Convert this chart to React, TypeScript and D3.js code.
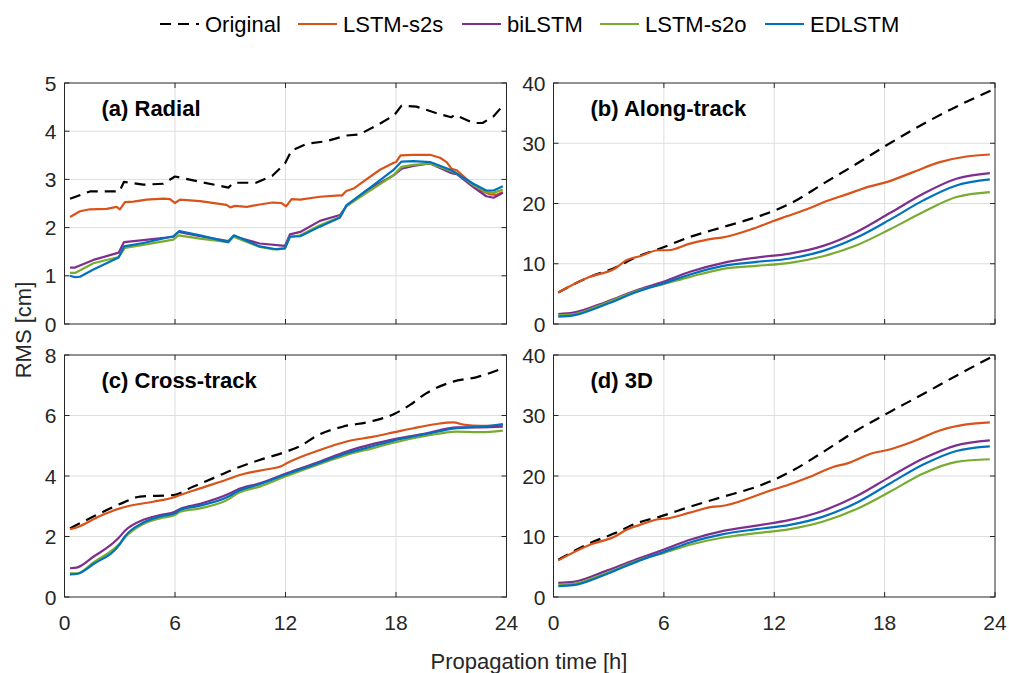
import * as d3 from "d3";

type Pt = [number, number];

// legend / series names
const seriesNames = ["Original", "LSTM-s2s", "biLSTM", "LSTM-s2o", "EDLSTM"];
const seriesColors = ["#000000", "#D95319", "#7E2F8E", "#77AC30", "#0072BD"];

const xTicks = [0, 6, 12, 18, 24];

// (a) Radial
const radialOriginal: Pt[] = [
  [0.3, 2.6], [1.38, 2.75], [2.98, 2.75], [3.23, 2.95], [4.28, 2.89], [5.37, 2.91],
  [6.0, 3.06], [7.36, 2.95], [8.9, 2.83], [9.17, 2.93], [10.4, 2.93], [11.3, 3.08],
  [11.97, 3.33], [12.33, 3.6], [13.15, 3.74], [14.2, 3.79], [15.3, 3.91], [16.0, 3.93],
  [17.1, 4.15], [17.9, 4.33], [18.3, 4.53], [19.1, 4.51], [20.4, 4.35], [21.0, 4.29],
  [21.2, 4.34], [22.2, 4.17], [22.7, 4.17], [23.3, 4.31], [23.8, 4.53],
];
const radialS2s: Pt[] = [
  [0.3, 2.22], [0.84, 2.34], [1.38, 2.38], [2.29, 2.39], [2.83, 2.43], [3.01, 2.38],
  [3.28, 2.53], [3.74, 2.54], [4.46, 2.58], [5.37, 2.6], [5.73, 2.59], [6.0, 2.51],
  [6.27, 2.58], [7.36, 2.55], [8.8, 2.47], [9.0, 2.42], [9.26, 2.45], [9.9, 2.43],
  [10.6, 2.48], [11.3, 2.52], [11.79, 2.51], [12.03, 2.44], [12.33, 2.59], [12.8, 2.58],
  [13.87, 2.64], [14.96, 2.67], [15.05, 2.66], [15.3, 2.76], [15.7, 2.81], [16.2, 2.95],
  [17.13, 3.2], [17.85, 3.34], [18.0, 3.36], [18.25, 3.5], [18.94, 3.51], [19.85, 3.51],
  [20.39, 3.45], [20.75, 3.36], [21.02, 3.22], [21.3, 3.19], [22.0, 2.95], [22.6, 2.77],
  [23.1, 2.69], [23.47, 2.68], [23.8, 2.74],
];
const radialBi: Pt[] = [
  [0.3, 1.17], [0.57, 1.17], [1.57, 1.33], [2.94, 1.48], [3.23, 1.7], [4.28, 1.74],
  [5.91, 1.81], [6.18, 1.91], [7.36, 1.82], [8.9, 1.72], [9.17, 1.82], [10.6, 1.67],
  [11.97, 1.62], [12.24, 1.86], [12.8, 1.91], [13.87, 2.14], [14.96, 2.26], [15.3, 2.44],
  [16.4, 2.77], [17.85, 3.08], [18.3, 3.22], [18.94, 3.28], [19.85, 3.33], [21.02, 3.13],
  [21.3, 3.11], [22.2, 2.84], [22.9, 2.65], [23.3, 2.62], [23.8, 2.72],
];
const radialS2o: Pt[] = [
  [0.3, 1.06], [0.57, 1.06], [1.57, 1.26], [2.94, 1.39], [3.28, 1.58], [4.28, 1.64],
  [5.91, 1.75], [6.18, 1.84], [7.36, 1.77], [8.9, 1.7], [9.17, 1.81], [10.6, 1.6],
  [11.3, 1.55], [11.97, 1.57], [12.24, 1.81], [12.8, 1.84], [13.87, 2.05], [14.96, 2.22],
  [15.3, 2.44], [16.4, 2.72], [17.85, 3.08], [18.3, 3.26], [18.94, 3.3], [19.85, 3.33],
  [21.02, 3.17], [21.3, 3.13], [22.2, 2.88], [22.9, 2.74], [23.3, 2.72], [23.8, 2.79],
];
const radialEd: Pt[] = [
  [0.3, 1.0], [0.57, 0.97], [0.84, 0.98], [1.57, 1.13], [2.94, 1.38], [3.23, 1.61],
  [4.28, 1.68], [5.91, 1.82], [6.24, 1.93], [7.36, 1.84], [8.9, 1.7], [9.2, 1.84],
  [10.6, 1.61], [11.5, 1.55], [11.97, 1.57], [12.24, 1.81], [12.8, 1.82], [13.87, 2.02],
  [14.96, 2.21], [15.3, 2.46], [16.4, 2.77], [17.85, 3.19], [18.3, 3.37], [18.94, 3.38],
  [19.85, 3.36], [21.02, 3.19], [21.3, 3.12], [22.2, 2.91], [22.9, 2.77], [23.3, 2.77],
  [23.8, 2.86],
];

// (b) Along-track
const alongOriginal: Pt[] = [
  [0.26, 5.24], [1.98, 7.83], [3.25, 9.21], [4.52, 11.14], [5.79, 12.52], [7.42, 14.45],
  [9.23, 16.1], [11.04, 17.76], [12.04, 18.86], [13.03, 20.24], [14.66, 23.28],
  [16.48, 26.59], [17.93, 29.34], [20.1, 33.2], [21.9, 36.07], [23.76, 38.72],
];
const alongS2s: Pt[] = [
  [0.26, 5.24], [1.98, 7.83], [3.34, 9.21], [3.97, 10.59], [4.7, 11.25], [5.7, 12.24],
  [6.24, 12.24], [7.42, 13.35], [8.69, 14.18], [9.14, 14.34], [10.86, 15.83],
  [11.95, 17.1], [12.67, 17.87], [13.94, 19.25], [14.85, 20.41], [15.93, 21.51],
  [17.2, 22.84], [18.1, 23.55], [19.55, 25.21], [21.0, 26.86], [22.45, 27.8], [23.72, 28.13],
];
const alongBi: Pt[] = [
  [0.26, 1.65], [1.08, 1.88], [2.89, 3.7], [4.7, 5.79], [5.97, 7.0], [7.42, 8.66],
  [9.23, 10.15], [11.04, 11.03], [12.85, 11.69], [14.66, 12.96], [16.48, 15.28],
  [18.29, 18.42], [20.1, 21.62], [21.9, 24.1], [23.72, 25.04],
];
const alongS2o: Pt[] = [
  [0.26, 1.43], [1.08, 1.6], [2.89, 3.53], [4.7, 5.63], [5.97, 6.62], [7.42, 7.83],
  [9.23, 9.16], [11.04, 9.65], [12.85, 10.15], [14.66, 11.25], [16.48, 13.07],
  [18.29, 15.72], [20.1, 18.59], [21.9, 21.07], [23.72, 21.9],
];
const alongEd: Pt[] = [
  [0.26, 1.21], [1.08, 1.43], [2.89, 3.31], [4.7, 5.52], [5.97, 6.73], [7.42, 8.22],
  [9.23, 9.65], [11.04, 10.31], [12.85, 10.87], [14.66, 12.13], [16.48, 14.34],
  [18.29, 17.32], [20.1, 20.52], [21.9, 23.0], [23.72, 23.99],
];

// (c) Cross-track
const crossOriginal: Pt[] = [
  [0.3, 2.27], [1.57, 2.66], [3.19, 3.12], [4.1, 3.32], [5.91, 3.37], [7.0, 3.65],
  [8.08, 3.93], [9.17, 4.22], [10.6, 4.53], [12.06, 4.81], [12.79, 4.99], [13.7, 5.33],
  [15.1, 5.63], [16.6, 5.8], [17.9, 6.05], [18.76, 6.35], [19.66, 6.74], [21.1, 7.12],
  [22.4, 7.27], [23.8, 7.56],
];
const crossS2s: Pt[] = [
  [0.3, 2.24], [0.66, 2.3], [1.93, 2.68], [3.01, 2.93], [3.38, 2.99], [4.82, 3.15],
  [5.91, 3.29], [6.27, 3.37], [7.36, 3.59], [9.17, 3.96], [9.35, 4.0], [10.6, 4.18],
  [11.79, 4.33], [12.06, 4.42], [13.87, 4.86], [15.32, 5.14], [16.77, 5.3], [17.86, 5.44],
  [18.94, 5.58], [20.2, 5.72], [21.1, 5.77], [21.75, 5.69], [22.6, 5.66], [23.3, 5.66],
  [23.8, 5.69],
];
const crossBi: Pt[] = [
  [0.3, 0.95], [0.66, 0.97], [1.57, 1.33], [2.92, 1.94], [3.28, 2.19], [4.28, 2.55],
  [5.19, 2.71], [6.0, 2.82], [6.27, 2.91], [7.36, 3.08], [8.99, 3.43], [9.35, 3.54],
  [10.6, 3.76], [12.06, 4.09], [13.87, 4.48], [15.32, 4.81], [16.77, 5.06], [17.86, 5.21],
  [19.66, 5.41], [21.3, 5.61], [22.6, 5.61], [23.8, 5.63],
];
const crossS2o: Pt[] = [
  [0.3, 0.78], [0.66, 0.78], [1.57, 1.14], [3.01, 1.78], [3.28, 1.97], [4.28, 2.41],
  [5.19, 2.6], [6.0, 2.71], [6.27, 2.82], [7.36, 2.93], [8.99, 3.26], [9.35, 3.41],
  [10.6, 3.65], [12.06, 4.0], [13.87, 4.4], [15.32, 4.7], [16.77, 4.92], [17.86, 5.1],
  [19.66, 5.33], [21.3, 5.47], [22.6, 5.45], [23.8, 5.5],
];
const crossEd: Pt[] = [
  [0.3, 0.75], [0.66, 0.76], [1.57, 1.09], [3.01, 1.75], [3.28, 2.0], [4.28, 2.46],
  [5.19, 2.66], [6.0, 2.77], [6.27, 2.88], [7.36, 3.02], [8.99, 3.35], [9.35, 3.48],
  [10.6, 3.73], [12.06, 4.06], [13.87, 4.44], [15.32, 4.75], [16.77, 4.99], [17.86, 5.17],
  [19.66, 5.39], [21.3, 5.58], [22.6, 5.63], [23.8, 5.72],
];

// (d) 3D
const totalOriginal: Pt[] = [
  [0.26, 6.16], [1.98, 8.9], [3.25, 10.44], [4.52, 12.19], [5.79, 13.29], [7.42, 14.93],
  [9.23, 16.58], [11.04, 18.22], [11.95, 19.32], [13.03, 20.96], [14.66, 23.97],
  [16.48, 27.53], [17.93, 30.0], [20.1, 33.56], [21.9, 36.58], [23.76, 39.6],
];
const totalS2s: Pt[] = [
  [0.26, 6.05], [1.98, 8.63], [3.34, 10.0], [3.97, 11.1], [4.7, 11.92], [5.7, 12.85],
  [6.24, 13.01], [7.42, 13.95], [8.69, 14.93], [9.14, 15.04], [10.86, 16.58],
  [11.95, 17.78], [12.67, 18.44], [13.94, 19.86], [15.2, 21.5], [15.93, 22.05],
  [17.38, 23.81], [18.1, 24.25], [19.55, 25.7], [21.0, 27.53], [22.45, 28.52], [23.72, 28.85],
];
const totalBi: Pt[] = [
  [0.26, 2.33], [1.08, 2.49], [2.89, 4.36], [4.7, 6.44], [5.97, 7.81], [7.42, 9.45],
  [9.23, 10.93], [11.04, 11.81], [12.85, 12.74], [14.66, 14.27], [16.48, 16.68],
  [18.29, 19.86], [20.1, 22.88], [21.9, 25.07], [23.72, 25.89],
];
const totalS2o: Pt[] = [
  [0.26, 2.0], [1.08, 2.16], [2.89, 3.97], [4.7, 6.16], [5.97, 7.26], [7.42, 8.63],
  [9.23, 9.84], [11.04, 10.55], [12.85, 11.21], [14.66, 12.47], [16.48, 14.55],
  [18.29, 17.4], [20.1, 20.41], [21.9, 22.33], [23.72, 22.77],
];
const totalEd: Pt[] = [
  [0.26, 1.78], [1.08, 1.95], [2.89, 3.81], [4.7, 6.05], [5.97, 7.42], [7.42, 9.01],
  [9.23, 10.38], [11.04, 11.21], [12.85, 11.92], [14.66, 13.29], [16.48, 15.59],
  [18.29, 18.77], [20.1, 21.89], [21.9, 24.14], [23.72, 24.9],
];

interface Panel {
  title: string;
  yMax: number;
  yTicks: number[];
  series: Pt[][];
  smooth: boolean;
  col: number;
  row: number;
}

const panels: Panel[] = [
  { title: "(a) Radial", yMax: 5, yTicks: [0, 1, 2, 3, 4, 5], series: [radialOriginal, radialS2s, radialBi, radialS2o, radialEd], smooth: false, col: 0, row: 0 },
  { title: "(b) Along-track", yMax: 40, yTicks: [0, 10, 20, 30, 40], series: [alongOriginal, alongS2s, alongBi, alongS2o, alongEd], smooth: true, col: 1, row: 0 },
  { title: "(c) Cross-track", yMax: 8, yTicks: [0, 2, 4, 6, 8], series: [crossOriginal, crossS2s, crossBi, crossS2o, crossEd], smooth: true, col: 0, row: 1 },
  { title: "(d) 3D", yMax: 40, yTicks: [0, 10, 20, 30, 40], series: [totalOriginal, totalS2s, totalBi, totalS2o, totalEd], smooth: true, col: 1, row: 1 },
];

const colX = [[64.5, 506.5], [553.5, 995]];
const rowY = [[83, 324], [355, 597]];

const font = "'Liberation Sans', Arial, Helvetica, sans-serif";
const axisColor = "#262626";
const gridColor = "#dedede";

function PanelView({ p }: { p: Panel }) {
  const [x0, x1] = colX[p.col];
  const [y0, y1] = rowY[p.row];
  const x = d3.scaleLinear().domain([0, 24]).range([x0, x1]);
  const y = d3.scaleLinear().domain([0, p.yMax]).range([y1, y0]);
  const line = d3
    .line<Pt>()
    .x((d) => x(d[0]))
    .y((d) => y(d[1]))
    .curve(p.smooth ? d3.curveMonotoneX : d3.curveLinear);
  const tick = 5;
  return (
    <g>
      {/* grid */}
      {xTicks.slice(1, -1).map((t) => (
        <line key={"gx" + t} x1={x(t)} x2={x(t)} y1={y0} y2={y1} stroke={gridColor} strokeWidth={1} />
      ))}
      {p.yTicks.slice(1, -1).map((t) => (
        <line key={"gy" + t} x1={x0} x2={x1} y1={y(t)} y2={y(t)} stroke={gridColor} strokeWidth={1} />
      ))}
      {/* series */}
      {p.series.map((s, i) => (
        <path
          key={i}
          d={line(s) || ""}
          fill="none"
          stroke={seriesColors[i]}
          strokeWidth={2.2}
          strokeDasharray={i === 0 ? "11,7" : undefined}
          strokeLinejoin="round"
        />
      ))}
      {/* frame */}
      <rect x={x0} y={y0} width={x1 - x0} height={y1 - y0} fill="none" stroke={axisColor} strokeWidth={1} />
      {xTicks.map((t) => (
        <g key={"tx" + t}>
          <line x1={x(t)} x2={x(t)} y1={y1} y2={y1 - tick} stroke={axisColor} />
          <line x1={x(t)} x2={x(t)} y1={y0} y2={y0 + tick} stroke={axisColor} />
          {p.row === 1 && (
            <text x={x(t)} y={630} textAnchor="middle" fontSize={21} fill={axisColor} fontFamily={font}>
              {t}
            </text>
          )}
        </g>
      ))}
      {p.yTicks.map((t) => (
        <g key={"ty" + t}>
          <line x1={x0} x2={x0 + tick} y1={y(t)} y2={y(t)} stroke={axisColor} />
          <line x1={x1} x2={x1 - tick} y1={y(t)} y2={y(t)} stroke={axisColor} />
          <text x={x0 - 8} y={y(t) + 7.5} textAnchor="end" fontSize={21} fill={axisColor} fontFamily={font}>
            {t}
          </text>
        </g>
      ))}
      <text x={x0 + 37} y={y0 + 33} fontSize={22} fontWeight="bold" fill="#000" fontFamily={font}>
        {p.title}
      </text>
    </g>
  );
}

const legendLineX = [160, 298, 462, 600, 765];

export default function App() {
  return (
    <svg
      width={1009}
      height={673}
      style={{ position: "absolute", left: 0, top: 0, background: "#fff" }}
    >
      <rect width={1009} height={673} fill="#fff" />
      {panels.map((p) => (
        <PanelView key={p.title} p={p} />
      ))}
      {/* legend */}
      {seriesNames.map((name, i) => {
        const lx = legendLineX[i];
        return (
          <g key={name}>
            <line
              x1={lx}
              x2={lx + 39}
              y1={24}
              y2={24}
              stroke={seriesColors[i]}
              strokeWidth={2.2}
              strokeDasharray={i === 0 ? "11,7" : undefined}
            />
            <text x={lx + 45} y={32} fontSize={22} fill="#000" fontFamily={font}>
              {name}
            </text>
          </g>
        );
      })}
      <text x={529} y={669} textAnchor="middle" fontSize={22} fill={axisColor} fontFamily={font}>
        Propagation time [h]
      </text>
      <text
        transform="translate(31,330) rotate(-90)"
        textAnchor="middle"
        fontSize={22}
        fill={axisColor}
        fontFamily={font}
      >
        RMS [cm]
      </text>
    </svg>
  );
}
